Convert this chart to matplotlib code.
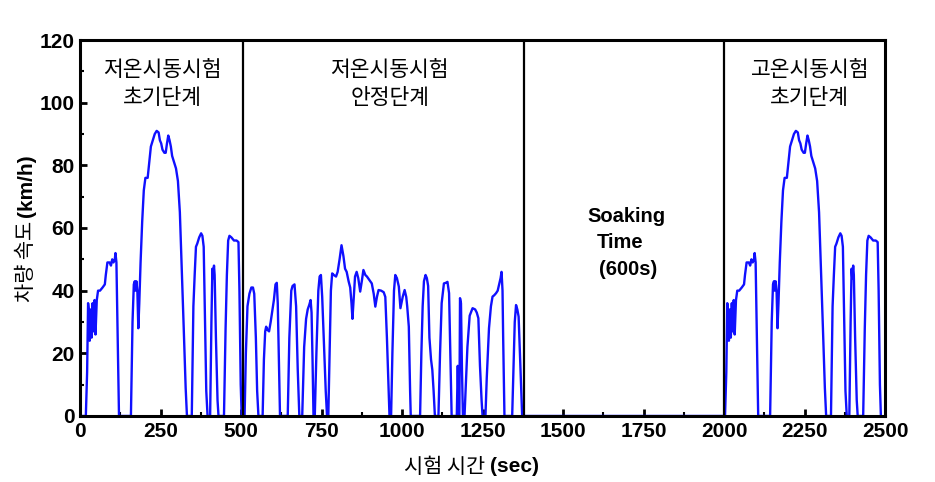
import numpy as np
import matplotlib
matplotlib.use('Agg')
import matplotlib.pyplot as plt
from matplotlib.ticker import MultipleLocator

# FTP-75 style test cycle, speed (km/h)
# cold start phase (0 - 505 s)
cold_t = [0, 18, 22, 25, 28, 30, 33, 36, 39, 42, 45, 48, 52, 56, 62, 70, 77, 80, 85, 92,
          96, 100, 104, 108, 110, 113, 117, 121, 158, 163, 167, 170, 172, 175, 178, 181,
          184, 188, 193, 198, 203, 210, 214, 220, 226, 232, 238, 244, 248, 252, 256, 262,
          266, 270, 274, 278, 282, 286, 292, 298, 304, 310, 316, 322, 328, 332, 347, 352,
          356, 360, 364, 370, 376, 380, 384, 388, 392, 396, 404, 408, 411, 413, 416, 418,
          422, 427, 430, 447, 452, 456, 460, 464, 470, 478, 486, 492, 495, 499, 502]
cold_v = [0, 0, 14, 36, 33, 24, 34, 25, 36, 27, 37, 26, 37, 40, 40, 41, 42, 45, 49, 49,
          48, 50, 49, 50, 52, 49, 25, 0, 0, 30, 42, 43, 40, 43, 40, 28,
          36, 49, 62, 72, 76, 76, 80, 86, 88, 90, 91, 90.5, 88, 87, 85, 84,
          84, 87, 89.5, 88, 86, 83, 81, 79, 75, 65, 47, 28, 9, 0, 0, 35,
          45, 54, 55, 57, 58.3, 57.5, 54, 30, 8, 0, 0, 30, 47, 44, 48, 45,
          25, 5, 0, 0, 28, 45, 56, 57.5, 57, 56, 56, 55.5, 40, 10, 0]

# stabilized phase (505 - 1372 s)
stab_t = [505, 511, 515, 520, 526, 532, 537, 541, 546, 550, 554, 567, 571, 575, 578, 582,
          587, 592, 597, 602, 607, 611, 614, 618, 621, 645, 650, 656, 660, 666, 671, 676,
          681, 690, 696, 702, 707, 712, 716, 719, 722, 725, 729, 734, 740, 744, 748, 752,
          758, 763, 767, 771, 775, 779, 783, 788, 795, 800, 806, 812, 818, 823, 828, 834,
          839, 843, 846, 850, 854, 859, 864, 870, 875, 880, 886, 891, 898, 906, 912, 917,
          922, 927, 935, 943, 948, 953, 957, 961, 966, 970, 975, 979, 984, 990, 995, 1002,
          1008, 1013, 1016, 1021, 1025, 1027, 1056, 1060, 1064, 1068, 1073, 1077, 1081,
          1085, 1090, 1094, 1098, 1102, 1113, 1118, 1123, 1130, 1136, 1141, 1146, 1150,
          1154, 1170, 1173, 1176, 1178, 1180, 1183, 1186, 1189, 1194, 1198, 1203, 1210,
          1219, 1227, 1232, 1237, 1242, 1247, 1250, 1259, 1263, 1270, 1276, 1281, 1286,
          1292, 1297, 1302, 1306, 1309, 1312, 1314, 1318, 1342, 1346, 1350, 1354, 1358,
          1362, 1366, 1370, 1373]
stab_v = [0, 0, 20, 35, 39, 41, 41, 39, 25, 8, 0, 0, 18, 27, 28.5, 27.5,
          27, 30, 33.5, 37, 42, 42.5, 36, 15, 0, 0, 25, 40, 41.5, 42, 35, 15,
          0, 0, 22, 31, 34, 35.5, 37, 33, 18, 0, 0, 20, 40, 44.5, 45, 38,
          22, 8, 0, 0, 20, 40, 45.5, 45, 44.5, 46, 50, 54.5, 51, 47, 46, 43,
          41, 36, 31, 38, 44.5, 46, 44, 39.7, 43, 46.6, 45, 44.5, 43.5, 42.3, 39, 34.9,
          38, 40.2, 40, 39.5, 38, 25, 12, 0, 0, 20, 40, 45, 44, 41.3, 34.4, 38,
          40.2, 38, 35, 28.5, 8, 0, 0, 20, 35, 43, 45, 44, 41.5,
          25, 18, 14.7, 8, 0, 0, 20, 36, 42.3, 42.5, 42.8, 39.2, 20,
          0, 0, 16, 0, 0, 37.6, 36, 15, 0, 0, 10, 22, 32,
          34.4, 34, 33, 31.2, 16, 5, 0, 0, 12, 28, 35, 38.1, 38.5,
          39.2, 40, 42.3, 44, 46, 40, 25, 0, 0, 15, 30, 35.4, 34,
          31.7, 20, 8, 0]

# hot start phase repeats the cold start phase after the soak
hot_start = 1985

phase_bounds = [505, 1380, 2000]
phase_labels = ['저온시동시험\n초기단계', '저온시동시험\n안정단계', '고온시동시험\n초기단계']
phase_label_x = [256, 962, 2266]

t_all = np.concatenate([cold_t, stab_t, np.array(cold_t) + hot_start])
v_all = np.concatenate([cold_v, stab_v, cold_v])

num_font = ['Liberation Sans', 'DejaVu Sans']
kr_font = ['Noto Sans CJK KR', 'DejaVu Sans']

fig = plt.figure(figsize=(9.35, 4.82), dpi=100)
ax = fig.add_axes([0.0856, 0.137, 0.861, 0.780])

ax.plot(t_all, v_all, color='#1010ff', linewidth=1.7)

for b in phase_bounds:
    ax.axvline(b, color='black', linewidth=1.6)

for x, lab in zip(phase_label_x, phase_labels):
    ax.text(x, 114, lab, ha='center', va='top', fontsize=15.5, family=kr_font,
            fontweight='light', linespacing=1.35)

# soaking time annotation
soak_font = dict(ha='center', va='center', fontsize=14.5, family=num_font, fontweight='bold')
ax.text(1697, 63.8, 'Soaking', **soak_font)
ax.text(1678, 55.5, 'Time', **soak_font)
ax.text(1703, 46.6, '(600s)', **soak_font)

ax.set_xlim(0, 2500)
ax.set_ylim(0, 120)
ax.xaxis.set_major_locator(MultipleLocator(250))
ax.xaxis.set_minor_locator(MultipleLocator(125))
ax.yaxis.set_major_locator(MultipleLocator(20))
ax.yaxis.set_minor_locator(MultipleLocator(10))
ax.tick_params(which='major', direction='in', length=5, width=2, top=False, right=False,
               labelsize=15, pad=4)
ax.tick_params(which='minor', direction='in', length=3, width=1.5, top=False, right=False)
for lab in ax.get_xticklabels() + ax.get_yticklabels():
    lab.set_family(num_font)
    lab.set_fontweight('bold')

for s in ax.spines.values():
    s.set_linewidth(2.2)

# axis labels: Korean part regular, unit part bold
ax.text(0.509, -0.135, '시험 시간 ', transform=ax.transAxes, ha='right', va='center',
        fontsize=15, family=kr_font)
ax.text(0.509, -0.135, '(sec)', transform=ax.transAxes, ha='left', va='center',
        fontsize=15, family=num_font, fontweight='bold')
ax.text(-0.067, 0.519, '차량 속도', transform=ax.transAxes, ha='center', va='top',
        rotation=90, fontsize=15, family=kr_font)
ax.text(-0.067, 0.529, '(km/h)', transform=ax.transAxes, ha='center', va='bottom',
        rotation=90, fontsize=15, family=num_font, fontweight='bold')

fig.savefig('out.png', dpi=100)
